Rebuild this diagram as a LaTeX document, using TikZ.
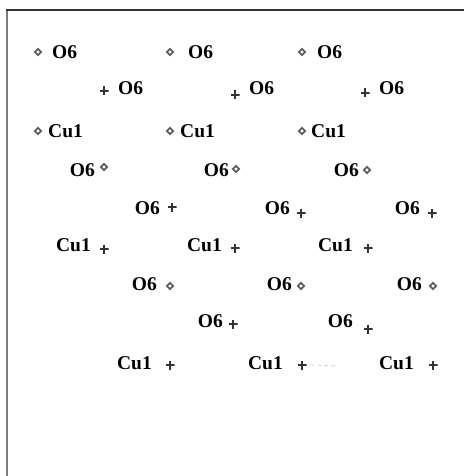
\documentclass[tikz,border=0pt]{standalone}
\usepackage{fontspec}
\setmainfont{Liberation Serif}
\usetikzlibrary{shapes.geometric}
\definecolor{framedark}{HTML}{333333}
\definecolor{framegray}{HTML}{7A7A7A}
\definecolor{diamgray}{HTML}{5E5E5E}
\definecolor{plusgray}{HTML}{333333}
\tikzset{
  atom/.style={font=\bfseries\fontsize{19.5}{19.5}\selectfont, inner sep=0pt},
  diamk/.style={diamond, draw=diamgray, line width=1.7pt, minimum size=7pt, inner sep=0pt},
  plusmk/.style={rectangle, minimum size=9pt, inner sep=0pt,
    path picture={\draw[line width=2.1pt, plusgray]
      (path picture bounding box.west) -- (path picture bounding box.east)
      (path picture bounding box.north) -- (path picture bounding box.south);}},
}
\begin{document}
\begin{tikzpicture}[x=1pt, y=-1pt]
\useasboundingbox (0,0) rectangle (464,476);
% frame
\draw[framegray, line width=2.4pt] (7.2,10) -- (7.2,476);
\draw[framedark, line width=2pt] (6,10) -- (464,10);

% row 1
\node[diamk] (d1) at (38,52) {};  \node[atom, anchor=west] (t1) at (52,52) {O6};
\node[diamk] (d2) at (170,52) {}; \node[atom, anchor=west] (t2) at (188,52) {O6};
\node[diamk] (d3) at (302,52) {}; \node[atom, anchor=west] (t3) at (317,52) {O6};
% row 2
\node[plusmk] (p4) at (104,91) {}; \node[atom, anchor=west] (t4) at (118,88) {O6};
\node[plusmk] (p5) at (235,95) {}; \node[atom, anchor=west] (t5) at (249,88) {O6};
\node[plusmk] (p6) at (365,93) {}; \node[atom, anchor=west] (t6) at (379,88) {O6};
% row 3
\node[diamk] (d7) at (38,131) {};  \node[atom, anchor=west] (t7) at (48,131) {Cu1};
\node[diamk] (d8) at (170,131) {}; \node[atom, anchor=west] (t8) at (180,131) {Cu1};
\node[diamk] (d9) at (302,131) {}; \node[atom, anchor=west] (t9) at (311,131) {Cu1};
% row 4
\node[atom, anchor=east] (t10) at (95,170) {O6};  \node[diamk] (d10) at (104,167) {};
\node[atom, anchor=east] (t11) at (229,170) {O6}; \node[diamk] (d11) at (236,169) {};
\node[atom, anchor=east] (t12) at (359,170) {O6}; \node[diamk] (d12) at (367,170) {};
% row 5
\node[atom, anchor=east] (t13) at (160,208) {O6}; \node[plusmk] (p13) at (172,207) {};
\node[atom, anchor=east] (t14) at (290,208) {O6}; \node[plusmk] (p14) at (301,213) {};
\node[atom, anchor=east] (t15) at (420,208) {O6}; \node[plusmk] (p15) at (432,213) {};
% row 6
\node[atom, anchor=east] (t16) at (91,245) {Cu1};  \node[plusmk] (p16) at (104,249) {};
\node[atom, anchor=east] (t17) at (222,245) {Cu1}; \node[plusmk] (p17) at (235,248) {};
\node[atom, anchor=east] (t18) at (353,245) {Cu1}; \node[plusmk] (p18) at (368,248) {};
% row 7
\node[atom, anchor=east] (t19) at (157,284) {O6}; \node[diamk] (d19) at (170,286) {};
\node[atom, anchor=east] (t20) at (292,284) {O6}; \node[diamk] (d20) at (301,286) {};
\node[atom, anchor=east] (t21) at (422,284) {O6}; \node[diamk] (d21) at (433,286) {};
% row 8
\node[atom, anchor=east] (t22) at (223,321) {O6}; \node[plusmk] (p22) at (233,324) {};
\node[atom, anchor=east] (t23) at (353,321) {O6}; \node[plusmk] (p23) at (368,329) {};
% row 9
\node[atom, anchor=east] (t24) at (152,363) {Cu1}; \node[plusmk] (p24) at (170,365) {};
\node[atom, anchor=east] (t25) at (283,363) {Cu1}; \node[plusmk] (p25) at (302,365) {};
\node[atom, anchor=east] (t26) at (414,363) {Cu1}; \node[plusmk] (p26) at (433,365) {};

% faint trace after the middle Cu1 site
\coordinate (trace) at (338,366);
\draw[gray!35, line width=0.8pt, dash pattern=on 4pt off 3pt] ([xshift=8pt]p25.center) -- (trace);
\end{tikzpicture}
\end{document}
